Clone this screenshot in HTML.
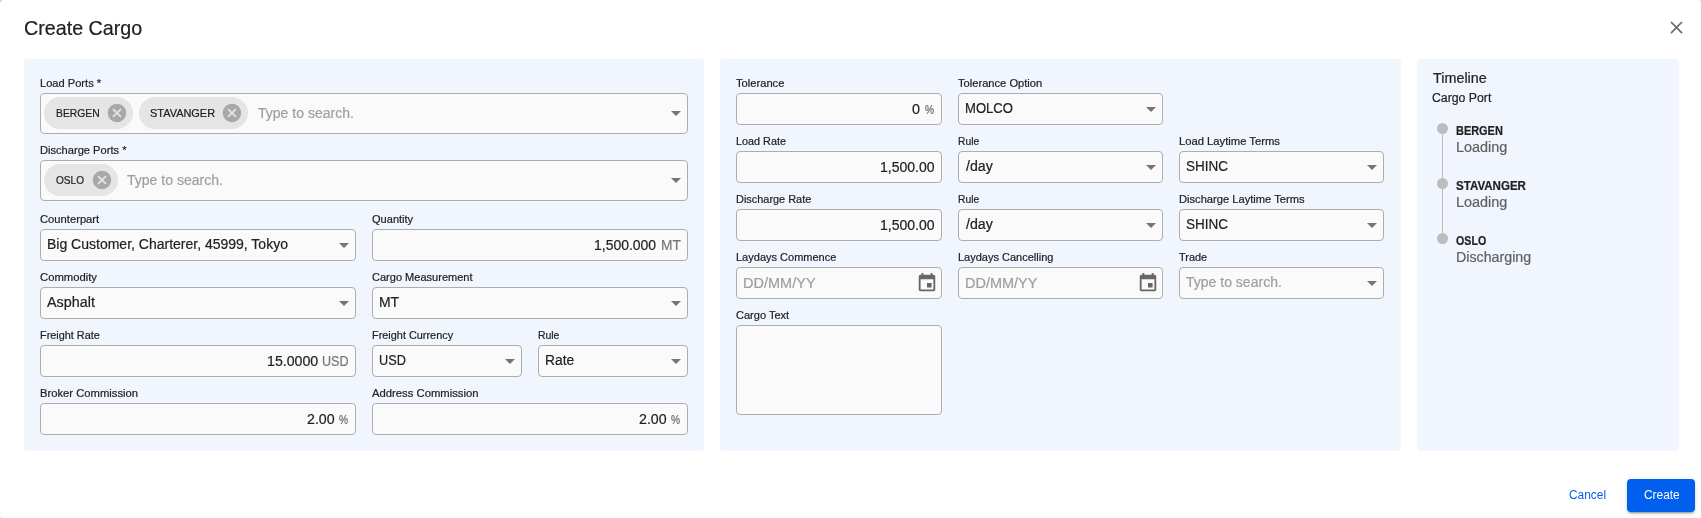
<!DOCTYPE html>
<html>
<head>
<meta charset="utf-8">
<title>Create Cargo</title>
<style>
*{box-sizing:border-box;margin:0;padding:0}
html{width:1701px;height:518px;overflow:hidden;background:#d0d0d0}
body{width:1701px;height:518px;overflow:hidden;background:#fff;border-radius:4px 2px 0 2px}
body{font-family:"Liberation Sans",sans-serif;color:#212121;position:relative}
.abs{position:absolute}
.txt{position:absolute;left:0;top:0;width:1701px;height:518px;will-change:transform}
.t{position:absolute;white-space:nowrap;transform-origin:0 0;color:#212121;-webkit-text-stroke:0.2px}
.panel{position:absolute;top:59px;height:392px;background:#f0f5fe;border-radius:4px}
.fld{position:absolute;height:32px;background:#fafafa;border:1px solid #adadad;border-radius:4px}
.fld.tall{height:41px}
.caret{position:absolute;right:6px;top:13px;width:0;height:0;border-left:5px solid transparent;border-right:5px solid transparent;border-top:5px solid #757575}
.tall .caret{top:17px}
.chip{position:absolute;top:3px;height:32px;border-radius:16px;background:#e5e5e5}
.chip svg{position:absolute;right:5px;top:5px;width:22px;height:22px}
.cal{position:absolute;right:3px;top:4px;width:22px;height:22px}
.dot{position:absolute;width:11px;height:11px;border-radius:50%;background:#bdbdbd;left:1437px}
</style>
</head>
<body>
<svg class="abs" style="left:1665.6px;top:16.5px" width="21" height="21" viewBox="0 0 24 24"><path fill="#6e6e6e" d="M19 6.41L17.59 5 12 10.59 6.41 5 5 6.41 10.59 12 5 17.59 6.41 19 12 13.41 17.59 19 19 17.59 13.41 12z"/></svg>

<!-- LEFT PANEL -->
<div class="panel" style="left:24px;width:680px"></div>
<div class="fld tall" style="left:40px;top:93px;width:648px">
  <div class="chip" style="left:3px;width:89px"><svg viewBox="0 0 24 24"><path fill="#a8a8a8" d="M12 2C6.47 2 2 6.47 2 12s4.47 10 10 10 10-4.47 10-10S17.53 2 12 2zm5 13.59L15.59 17 12 13.41 8.41 17 7 15.59 10.59 12 7 8.41 8.41 7 12 10.59 15.59 7 17 8.41 13.41 12 17 15.59z"/></svg></div>
  <div class="chip" style="left:98px;width:109px"><svg viewBox="0 0 24 24"><path fill="#a8a8a8" d="M12 2C6.47 2 2 6.47 2 12s4.47 10 10 10 10-4.47 10-10S17.53 2 12 2zm5 13.59L15.59 17 12 13.41 8.41 17 7 15.59 10.59 12 7 8.41 8.41 7 12 10.59 15.59 7 17 8.41 13.41 12 17 15.59z"/></svg></div>
  <div class="caret"></div>
</div>
<div class="fld tall" style="left:40px;top:160px;width:648px">
  <div class="chip" style="left:3px;width:74px"><svg viewBox="0 0 24 24"><path fill="#a8a8a8" d="M12 2C6.47 2 2 6.47 2 12s4.47 10 10 10 10-4.47 10-10S17.53 2 12 2zm5 13.59L15.59 17 12 13.41 8.41 17 7 15.59 10.59 12 7 8.41 8.41 7 12 10.59 15.59 7 17 8.41 13.41 12 17 15.59z"/></svg></div>
  <div class="caret"></div>
</div>
<div class="fld" style="left:40px;top:229px;width:316px"><div class="caret"></div></div>
<div class="fld" style="left:372px;top:229px;width:316px"></div>
<div class="fld" style="left:40px;top:287px;width:316px"><div class="caret"></div></div>
<div class="fld" style="left:372px;top:287px;width:316px"><div class="caret"></div></div>
<div class="fld" style="left:40px;top:345px;width:316px"></div>
<div class="fld" style="left:372px;top:345px;width:150px"><div class="caret"></div></div>
<div class="fld" style="left:538px;top:345px;width:150px"><div class="caret"></div></div>
<div class="fld" style="left:40px;top:403px;width:316px"></div>
<div class="fld" style="left:372px;top:403px;width:316px"></div>

<!-- MIDDLE PANEL -->
<div class="panel" style="left:720px;width:681px"></div>
<div class="fld" style="left:736px;top:93px;width:206px"></div>
<div class="fld" style="left:958px;top:93px;width:205px"><div class="caret"></div></div>
<div class="fld" style="left:736px;top:151px;width:206px"></div>
<div class="fld" style="left:958px;top:151px;width:205px"><div class="caret"></div></div>
<div class="fld" style="left:1179px;top:151px;width:205px"><div class="caret"></div></div>
<div class="fld" style="left:736px;top:209px;width:206px"></div>
<div class="fld" style="left:958px;top:209px;width:205px"><div class="caret"></div></div>
<div class="fld" style="left:1179px;top:209px;width:205px"><div class="caret"></div></div>
<div class="fld" style="left:736px;top:267px;width:206px"><svg class="cal" viewBox="0 0 24 24"><path fill="#676767" d="M17 12h-5v5h5v-5zM16 1v2H8V1H6v2H5c-1.11 0-1.99.9-1.99 2L3 19c0 1.1.89 2 2 2h14c1.1 0 2-.9 2-2V5c0-1.1-.9-2-2-2h-1V1h-2zm3 18H5V8h14v11z"/></svg></div>
<div class="fld" style="left:958px;top:267px;width:205px"><svg class="cal" viewBox="0 0 24 24"><path fill="#676767" d="M17 12h-5v5h5v-5zM16 1v2H8V1H6v2H5c-1.11 0-1.99.9-1.99 2L3 19c0 1.1.89 2 2 2h14c1.1 0 2-.9 2-2V5c0-1.1-.9-2-2-2h-1V1h-2zm3 18H5V8h14v11z"/></svg></div>
<div class="fld" style="left:1179px;top:267px;width:205px"><div class="caret"></div></div>
<div class="fld" style="left:736px;top:325px;width:206px;height:90px"></div>

<!-- RIGHT PANEL -->
<div class="panel" style="left:1417px;width:262px"></div>
<div class="abs" style="left:1442px;top:129px;width:1px;height:110px;background:#bdbdbd"></div>
<div class="dot" style="top:123px"></div>
<div class="dot" style="top:178px"></div>
<div class="dot" style="top:233px"></div>

<!-- BUTTONS -->
<div class="abs" style="left:1627px;top:479px;width:68px;height:33px;border-radius:4px;background:#005fee;box-shadow:0 3px 1px -2px rgba(0,0,0,.2),0 2px 2px 0 rgba(0,0,0,.14),0 1px 5px 0 rgba(0,0,0,.12)"></div>

<!-- TEXT -->
<div class="txt">
<span class="t" style="left:24.27px;top:16px;font-size:20.6px;line-height:23px;transform:scaleX(0.9568)">Create Cargo</span>
<span class="t" style="left:40.16px;top:77px;font-size:11px;line-height:13px;transform:scaleX(1.0093)">Load Ports *</span>
<span class="t" style="left:40.16px;top:144px;font-size:11px;line-height:13px;transform:scaleX(1.0101)">Discharge Ports *</span>
<span class="t" style="left:40.36px;top:213px;font-size:11px;line-height:13px;transform:scaleX(1.0193)">Counterpart</span>
<span class="t" style="left:371.82px;top:213px;font-size:11px;line-height:13px;transform:scaleX(1.0043)">Quantity</span>
<span class="t" style="left:40.35px;top:271px;font-size:11px;line-height:13px;transform:scaleX(1.0246)">Commodity</span>
<span class="t" style="left:372.47px;top:271px;font-size:11px;line-height:13px;transform:scaleX(1.0030)">Cargo Measurement</span>
<span class="t" style="left:40.18px;top:329px;font-size:11px;line-height:13px;transform:scaleX(0.9883)">Freight Rate</span>
<span class="t" style="left:372.28px;top:329px;font-size:11px;line-height:13px;transform:scaleX(0.9904)">Freight Currency</span>
<span class="t" style="left:537.62px;top:329px;font-size:11px;line-height:13px;transform:scaleX(0.9441)">Rule</span>
<span class="t" style="left:40.15px;top:387px;font-size:11px;line-height:13px;transform:scaleX(1.0218)">Broker Commission</span>
<span class="t" style="left:372.07px;top:387px;font-size:11px;line-height:13px;transform:scaleX(1.0248)">Address Commission</span>
<span class="t" style="left:735.80px;top:77px;font-size:11px;line-height:13px;transform:scaleX(1.0143)">Tolerance</span>
<span class="t" style="left:958.10px;top:77px;font-size:11px;line-height:13px;transform:scaleX(1.0126)">Tolerance Option</span>
<span class="t" style="left:736.18px;top:135px;font-size:11px;line-height:13px;transform:scaleX(0.9840)">Load Rate</span>
<span class="t" style="left:957.82px;top:135px;font-size:11px;line-height:13px;transform:scaleX(0.9348)">Rule</span>
<span class="t" style="left:1179.35px;top:135px;font-size:11px;line-height:13px;transform:scaleX(1.0210)">Load Laytime Terms</span>
<span class="t" style="left:736.17px;top:193px;font-size:11px;line-height:13px;transform:scaleX(0.9934)">Discharge Rate</span>
<span class="t" style="left:957.82px;top:193px;font-size:11px;line-height:13px;transform:scaleX(0.9348)">Rule</span>
<span class="t" style="left:1179.36px;top:193px;font-size:11px;line-height:13px;transform:scaleX(1.0134)">Discharge Laytime Terms</span>
<span class="t" style="left:736.17px;top:251px;font-size:11px;line-height:13px;transform:scaleX(1.0011)">Laydays Commence</span>
<span class="t" style="left:958.47px;top:251px;font-size:11px;line-height:13px;transform:scaleX(1.0005)">Laydays Cancelling</span>
<span class="t" style="left:1179.31px;top:251px;font-size:11px;line-height:13px;transform:scaleX(0.9917)">Trade</span>
<span class="t" style="left:736.37px;top:309px;font-size:11px;line-height:13px;transform:scaleX(1.0020)">Cargo Text</span>
<span class="t" style="left:46.85px;top:236px;font-size:14px;line-height:16px;transform:scaleX(0.9998)">Big Customer, Charterer, 45999, Tokyo</span>
<span class="t" style="left:594.42px;top:237px;font-size:14px;line-height:16px;transform:scaleX(0.9958)">1,500.000</span>
<span class="t" style="left:660.58px;top:237px;font-size:14px;line-height:16px;transform:scaleX(0.9806);color:#757575">MT</span>
<span class="t" style="left:47.27px;top:294px;font-size:14px;line-height:16px;transform:scaleX(1.0257)">Asphalt</span>
<span class="t" style="left:379.16px;top:294px;font-size:14px;line-height:16px;transform:scaleX(0.9966)">MT</span>
<span class="t" style="left:267.00px;top:353px;font-size:14px;line-height:16px;transform:scaleX(1.0129)">15.0000</span>
<span class="t" style="left:322.41px;top:353px;font-size:14px;line-height:16px;transform:scaleX(0.8978);color:#757575">USD</span>
<span class="t" style="left:379.30px;top:352px;font-size:14px;line-height:16px;transform:scaleX(0.9086)">USD</span>
<span class="t" style="left:545.17px;top:352px;font-size:14px;line-height:16px;transform:scaleX(0.9849)">Rate</span>
<span class="t" style="left:307.08px;top:411px;font-size:14px;line-height:16px;transform:scaleX(1.0143)">2.00</span>
<span class="t" style="left:338.95px;top:412px;font-size:13.2px;line-height:16px;transform:scaleX(0.7727);color:#666666">%</span>
<span class="t" style="left:639.18px;top:411px;font-size:14px;line-height:16px;transform:scaleX(1.0143)">2.00</span>
<span class="t" style="left:671.05px;top:412px;font-size:13.2px;line-height:16px;transform:scaleX(0.7727);color:#666666">%</span>
<span class="t" style="left:911.98px;top:101px;font-size:14px;line-height:16px;transform:scaleX(1.0265)">0</span>
<span class="t" style="left:924.75px;top:102px;font-size:13.2px;line-height:16px;transform:scaleX(0.7727);color:#666666">%</span>
<span class="t" style="left:965.14px;top:100px;font-size:14px;line-height:16px;transform:scaleX(0.9339)">MOLCO</span>
<span class="t" style="left:879.61px;top:159px;font-size:14px;line-height:16px;transform:scaleX(1.0025)">1,500.00</span>
<span class="t" style="left:966.02px;top:158px;font-size:14px;line-height:16px;transform:scaleX(1.0110)">/day</span>
<span class="t" style="left:1186.00px;top:158px;font-size:14px;line-height:16px;transform:scaleX(0.9651)">SHINC</span>
<span class="t" style="left:879.61px;top:217px;font-size:14px;line-height:16px;transform:scaleX(1.0025)">1,500.00</span>
<span class="t" style="left:966.02px;top:216px;font-size:14px;line-height:16px;transform:scaleX(1.0110)">/day</span>
<span class="t" style="left:1186.00px;top:216px;font-size:14px;line-height:16px;transform:scaleX(0.9651)">SHINC</span>
<span class="t" style="left:743.01px;top:275px;font-size:14px;line-height:16px;transform:scaleX(1.0369);color:#9e9e9e">DD/MM/YY</span>
<span class="t" style="left:965.01px;top:275px;font-size:14px;line-height:16px;transform:scaleX(1.0340);color:#9e9e9e">DD/MM/YY</span>
<span class="t" style="left:1186.24px;top:274px;font-size:14px;line-height:16px;transform:scaleX(1.0012);color:#9e9e9e">Type to search.</span>
<span class="t" style="left:257.54px;top:105px;font-size:14px;line-height:16px;transform:scaleX(1.0023);color:#9e9e9e">Type to search.</span>
<span class="t" style="left:126.74px;top:172px;font-size:14px;line-height:16px;transform:scaleX(1.0023);color:#9e9e9e">Type to search.</span>
<span class="t" style="left:56.10px;top:107px;font-size:10.75px;line-height:13px;transform:scaleX(0.9619)">BERGEN</span>
<span class="t" style="left:150.47px;top:107px;font-size:10.75px;line-height:13px;transform:scaleX(1.0175)">STAVANGER</span>
<span class="t" style="left:56.36px;top:174px;font-size:10.75px;line-height:13px;transform:scaleX(0.9371)">OSLO</span>
<span class="t" style="left:1432.53px;top:70px;font-size:14px;line-height:16px;transform:scaleX(1.0265)">Timeline</span>
<span class="t" style="left:1432.43px;top:91px;font-size:12px;line-height:14px;transform:scaleX(1.0231)">Cargo Port</span>
<span class="t" style="left:1456.00px;top:124px;font-size:12px;line-height:14px;transform:scaleX(0.9119);font-weight:bold">BERGEN</span>
<span class="t" style="left:1455.82px;top:139px;font-size:14px;line-height:16px;transform:scaleX(1.0298);color:#616161">Loading</span>
<span class="t" style="left:1456.01px;top:179px;font-size:12px;line-height:14px;transform:scaleX(0.9628);font-weight:bold">STAVANGER</span>
<span class="t" style="left:1455.82px;top:194px;font-size:14px;line-height:16px;transform:scaleX(1.0298);color:#616161">Loading</span>
<span class="t" style="left:1456.22px;top:234px;font-size:12px;line-height:14px;transform:scaleX(0.8884);font-weight:bold">OSLO</span>
<span class="t" style="left:1455.83px;top:249px;font-size:14px;line-height:16px;transform:scaleX(1.0167);color:#616161">Discharging</span>
<span class="t" style="left:1569.05px;top:488px;font-size:12px;line-height:14px;transform:scaleX(0.9920);color:#0b5fe8;-webkit-text-stroke:0">Cancel</span>
<span class="t" style="left:1643.65px;top:488px;font-size:12px;line-height:14px;transform:scaleX(0.9918);color:#ffffff;-webkit-text-stroke:0">Create</span>
</div>
</body>
</html>
